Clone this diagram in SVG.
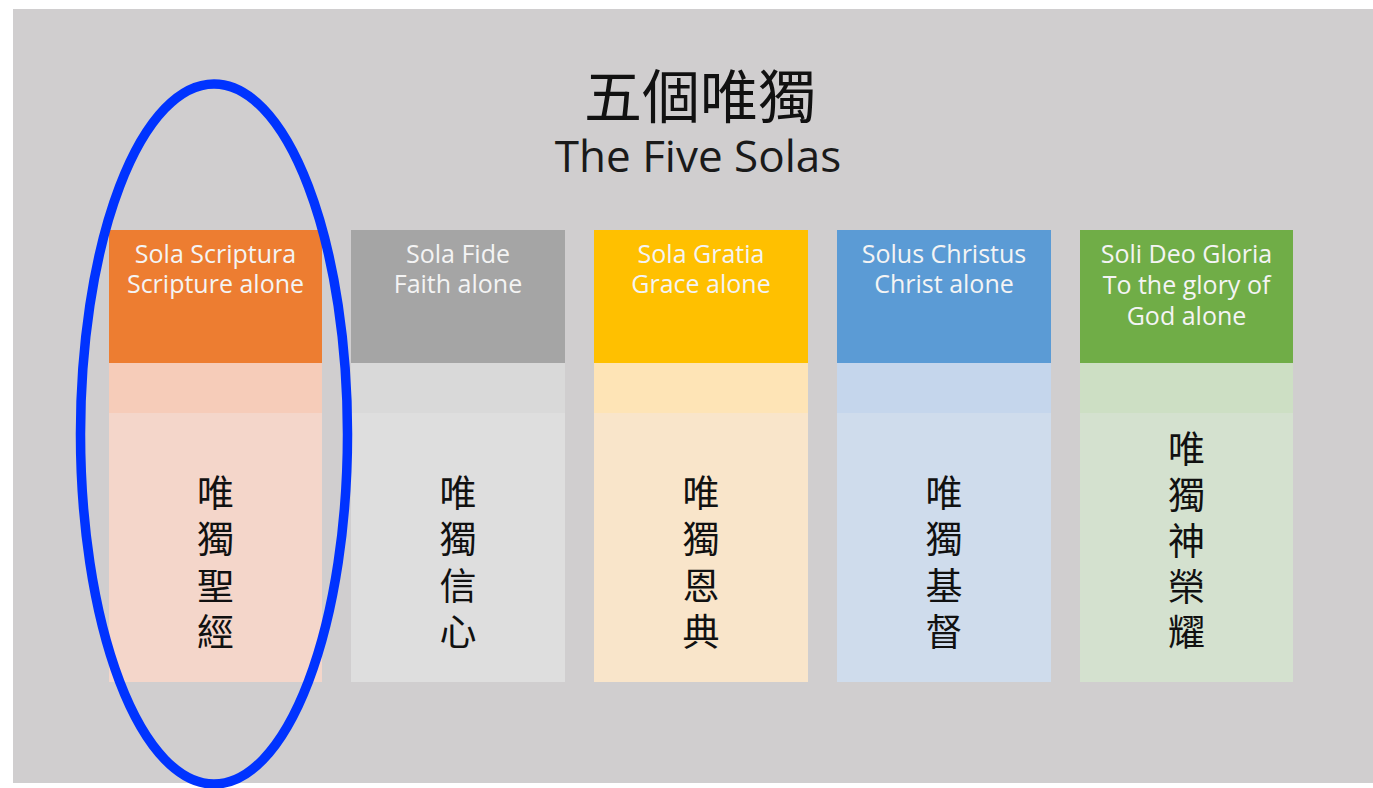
<svg xmlns="http://www.w3.org/2000/svg" width="1373" height="788" viewBox="0 0 1373 788">
  <style>
    .hdr { font-family: "Open Sans", "Noto Sans", sans-serif; font-size: 25px; fill: #F4F4F4; text-anchor: middle; }
    .zh { font-family: "Noto Sans CJK TC", "Noto Sans CJK SC", sans-serif; font-size: 37px; fill: #111111; text-anchor: middle; }
    .title-zh { font-family: "Noto Sans CJK TC", "Noto Sans CJK SC", sans-serif; font-size: 58px; fill: #111111; text-anchor: middle; }
    .title-en { font-family: "Open Sans", "Noto Sans", sans-serif; font-size: 44px; fill: #1A1A1A; text-anchor: middle; }
  </style>
  <rect x="0" y="0" width="1373" height="788" fill="#FFFFFF"/>
  <rect id="slide" x="13" y="9" width="1360" height="774" fill="#D0CECF"/>

  <g id="title">
    <text class="title-zh" x="700" y="118">五個唯獨</text>
    <text class="title-en" x="698" y="172">The Five Solas</text>
  </g>

  <g id="sola-scriptura">
    <rect x="109" y="230" width="213" height="133" fill="#ED7D31"/>
    <rect x="109" y="363" width="213" height="50" fill="#F6CCB9"/>
    <rect x="109" y="413" width="213" height="269" fill="#F4D6CA"/>
    <text class="hdr" x="215.5" y="263">Sola Scriptura</text>
    <text class="hdr" x="215.5" y="293">Scripture alone</text>
    <text class="zh" x="215.5" y="507">唯</text>
    <text class="zh" x="215.5" y="553">獨</text>
    <text class="zh" x="215.5" y="600">聖</text>
    <text class="zh" x="215.5" y="646">經</text>
  </g>

  <g id="sola-fide">
    <rect x="351" y="230" width="214" height="133" fill="#A5A5A5"/>
    <rect x="351" y="363" width="214" height="50" fill="#D9D9D9"/>
    <rect x="351" y="413" width="214" height="269" fill="#DEDEDE"/>
    <text class="hdr" x="458" y="263">Sola Fide</text>
    <text class="hdr" x="458" y="293">Faith alone</text>
    <text class="zh" x="458" y="507">唯</text>
    <text class="zh" x="458" y="553">獨</text>
    <text class="zh" x="458" y="600">信</text>
    <text class="zh" x="458" y="646">心</text>
  </g>

  <g id="sola-gratia">
    <rect x="594" y="230" width="214" height="133" fill="#FFC000"/>
    <rect x="594" y="363" width="214" height="50" fill="#FEE4B6"/>
    <rect x="594" y="413" width="214" height="269" fill="#F9E5CA"/>
    <text class="hdr" x="701" y="263">Sola Gratia</text>
    <text class="hdr" x="701" y="293">Grace alone</text>
    <text class="zh" x="701" y="507">唯</text>
    <text class="zh" x="701" y="553">獨</text>
    <text class="zh" x="701" y="600">恩</text>
    <text class="zh" x="701" y="646">典</text>
  </g>

  <g id="solus-christus">
    <rect x="837" y="230" width="214" height="133" fill="#5B9BD5"/>
    <rect x="837" y="363" width="214" height="50" fill="#C5D6EC"/>
    <rect x="837" y="413" width="214" height="269" fill="#CFDCEC"/>
    <text class="hdr" x="944" y="263">Solus Christus</text>
    <text class="hdr" x="944" y="293">Christ alone</text>
    <text class="zh" x="944" y="507">唯</text>
    <text class="zh" x="944" y="553">獨</text>
    <text class="zh" x="944" y="600">基</text>
    <text class="zh" x="944" y="646">督</text>
  </g>

  <g id="soli-deo-gloria">
    <rect x="1080" y="230" width="213" height="133" fill="#70AD47"/>
    <rect x="1080" y="363" width="213" height="50" fill="#CDDFC4"/>
    <rect x="1080" y="413" width="213" height="269" fill="#D4E1CF"/>
    <text class="hdr" x="1186.5" y="263">Soli Deo Gloria</text>
    <text class="hdr" x="1186.5" y="294">To the glory of</text>
    <text class="hdr" x="1186.5" y="325">God alone</text>
    <text class="zh" x="1186.5" y="463">唯</text>
    <text class="zh" x="1186.5" y="509">獨</text>
    <text class="zh" x="1186.5" y="555">神</text>
    <text class="zh" x="1186.5" y="601">榮</text>
    <text class="zh" x="1186.5" y="646">耀</text>
  </g>

  <g id="highlight">
    <ellipse cx="214" cy="434" rx="133.5" ry="350" fill="none" stroke="#0033FF" stroke-width="9.5"/>
  </g>
</svg>
